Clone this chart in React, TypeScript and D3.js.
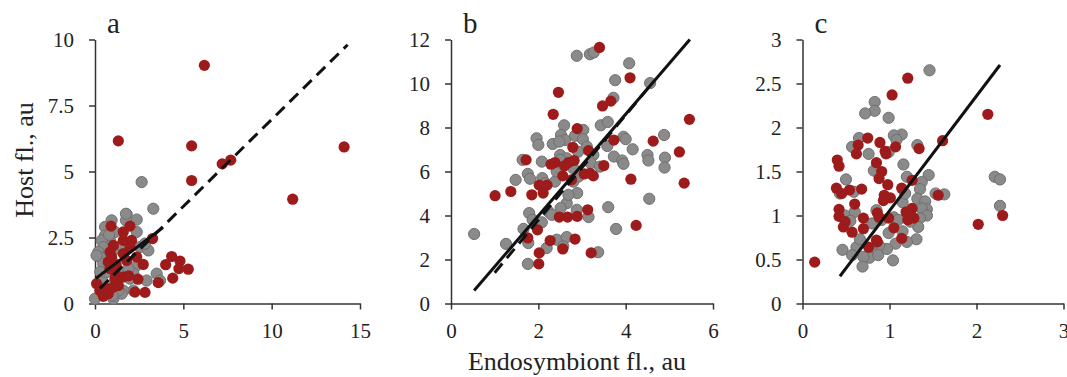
import React, { useEffect, useRef } from 'react';
import * as d3 from 'd3';

type Pt = [number, number];

// panel a
const aGray: Pt[] = [
  [2.64, 4.6], [3.3, 3.59], [1.79, 3.38], [2.36, 3.18], [1.75, 3.15], [0.94, 3.15], [0.57, 2.9], [1.13, 2.71],
  [0.57, 2.58], [2.36, 2.71], [0.85, 2.39], [0.38, 2.39], [0.47, 2.14], [0.19, 1.95], [0.28, 1.76], [0.09, 1.82],
  [1.23, 2.08], [1.51, 2.2], [2.55, 2.14], [3.02, 2.01], [2.83, 2.27], [2.26, 1.38], [2.17, 1.13], [1.98, 0.94],
  [3.49, 1.13], [3.68, 0.87], [2.92, 0.87], [2.17, 0.49], [1.6, 0.49], [1.51, 0.37], [1.04, 0.18], [0.0, 0.18],
  [0.38, 0.94], [0.66, 1.19], [1.51, 1.19], [1.89, 1.32], [0.85, 0.68], [1.32, 0.49], [0.66, 1.44], [1.13, 1.5],
  [0.47, 1.5], [1.75, 3.4], [0.8, 2.6], [1.0, 0.3], [0.3, 1.2],
];
const aRed: Pt[] = [
  [1.32, 6.16], [6.19, 9.02], [5.47, 5.97], [5.47, 4.66], [7.2, 5.29], [7.68, 5.43], [11.19, 3.95], [14.1, 5.93],
  [4.34, 1.78], [4.81, 1.61], [4.0, 1.47], [4.75, 1.32], [5.28, 1.3], [4.4, 0.96], [3.58, 0.79], [2.73, 1.48],
  [3.26, 2.46], [2.83, 0.42], [2.26, 0.43], [2.43, 0.92], [0.91, 2.93], [1.98, 2.93], [1.6, 2.71], [1.6, 2.39],
  [2.07, 2.39], [1.98, 2.14], [1.04, 2.2], [0.85, 1.95], [0.94, 1.76], [0.75, 1.57], [0.85, 1.32], [1.6, 1.89],
  [1.79, 1.63], [2.36, 1.76], [1.6, 1.0], [1.13, 0.94], [1.32, 0.68], [0.09, 0.75], [0.28, 0.49], [0.47, 0.27],
  [0.75, 0.37], [1.13, 1.19], [0.62, 0.56], [1.0, 0.6], [1.2, 1.45], [1.9, 1.05],
];
const aFit: Pt[] = [[0.05, 0.95], [3.85, 2.88]];
const aFitDash: Pt[] = [[0.28, 0.57], [14.3, 9.8]];

// panel b
const bGray: Pt[] = [
  [2.88, 11.26], [3.18, 11.33], [3.27, 11.41], [4.08, 10.92], [3.76, 10.15], [4.56, 10.02], [3.72, 9.35], [2.59, 8.1],
  [3.43, 8.1], [3.59, 8.25], [1.96, 7.51], [2.0, 7.21], [2.33, 7.25], [2.52, 7.66], [2.61, 7.43], [2.48, 7.36],
  [2.84, 7.62], [3.03, 7.89], [3.02, 7.47], [3.11, 7.13], [3.95, 7.58], [4.0, 7.47], [3.58, 7.16], [3.73, 6.68],
  [4.16, 7.01], [4.5, 6.75], [4.52, 6.5], [4.88, 7.66], [4.9, 6.63], [4.89, 6.18], [3.92, 6.5], [3.95, 6.35],
  [4.54, 4.76], [3.6, 4.38], [3.78, 3.39], [3.37, 2.33], [3.15, 3.93], [2.89, 5.02], [2.88, 4.26], [2.65, 4.56],
  [2.69, 4.94], [2.51, 4.34], [2.23, 4.18], [2.31, 4.03], [2.42, 2.9], [2.19, 2.52], [2.65, 3.02], [2.57, 2.6],
  [1.79, 4.11], [1.87, 3.81], [2.08, 3.69], [1.66, 3.39], [1.77, 2.75], [1.26, 2.71], [0.53, 3.16], [1.76, 1.8],
  [1.48, 5.62], [1.64, 6.53], [1.76, 5.89], [1.81, 5.67], [2.08, 6.45], [2.09, 5.7], [2.16, 5.47], [2.38, 5.54],
  [2.42, 6.0], [2.5, 6.75], [2.65, 6.6], [2.8, 5.54], [2.8, 6.15], [3.26, 6.75], [2.92, 5.77], [3.2, 6.38],
  [3.41, 6.22], [2.91, 6.9], [2.5, 6.53],
];
const bRed: Pt[] = [
  [3.4, 11.64], [4.1, 10.26], [2.46, 9.6], [3.66, 9.2], [3.47, 8.98], [2.34, 8.6], [5.46, 8.37], [2.89, 7.95],
  [2.79, 7.1], [3.73, 7.43], [4.63, 7.38], [5.23, 6.89], [3.15, 6.95], [1.72, 6.53], [2.29, 6.33], [2.38, 6.41],
  [2.6, 6.26], [2.69, 6.41], [2.82, 6.5], [3.5, 6.27], [2.56, 5.8], [2.76, 5.62], [3.18, 5.92], [3.26, 5.8],
  [3.05, 5.89], [4.12, 5.65], [5.34, 5.47], [2.02, 5.38], [2.2, 5.38], [2.11, 5.02], [1.85, 4.94], [1.37, 5.09],
  [1.01, 4.9], [3.13, 4.26], [2.48, 3.93], [2.67, 3.93], [2.89, 3.96], [4.24, 3.55], [1.98, 3.35], [1.76, 2.98],
  [2.27, 2.86], [2.84, 2.93], [2.02, 2.3], [2.56, 2.48], [3.21, 2.3], [2.01, 1.8],
];
const bFit: Pt[] = [[0.53, 0.59], [5.47, 12.0]];
const bFitDash: Pt[] = [[1.0, 1.4], [4.6, 10.0]];

// panel c
const cGray: Pt[] = [
  [1.46, 2.65], [0.83, 2.29], [0.83, 2.19], [0.72, 2.16], [0.99, 2.11], [1.14, 1.92], [1.05, 1.91], [1.08, 1.86],
  [0.65, 1.88], [0.57, 1.78], [0.76, 1.7], [0.99, 1.72], [1.32, 1.8], [1.16, 1.58], [0.82, 1.51], [1.45, 1.46],
  [1.2, 1.44], [0.5, 1.41], [1.37, 1.38], [1.35, 1.3], [1.53, 1.25], [1.63, 1.24], [1.32, 1.19], [1.15, 1.15],
  [1.41, 1.16], [1.43, 1.07], [1.37, 1.08], [1.43, 1.0], [1.35, 0.97], [1.33, 0.87], [1.24, 0.93], [1.15, 0.82],
  [1.31, 0.73], [1.2, 0.7], [1.07, 0.68], [0.99, 0.8], [0.97, 0.62], [0.88, 0.66], [0.82, 0.57], [0.77, 0.52],
  [0.7, 0.53], [0.62, 0.64], [0.66, 0.73], [0.46, 0.61], [0.57, 0.55], [0.69, 0.42], [1.04, 0.49], [0.85, 1.06],
  [0.91, 0.95], [1.05, 0.98], [1.1, 0.95], [0.8, 0.91], [0.49, 1.0], [0.6, 1.04], [0.55, 0.94], [0.43, 1.25],
  [0.59, 1.27], [2.21, 1.44], [2.27, 1.41], [2.27, 1.11], [1.18, 1.25], [0.87, 0.55],
];
const cRed: Pt[] = [
  [0.14, 0.47], [1.21, 2.56], [1.03, 2.37], [2.13, 2.15], [2.02, 0.9], [2.3, 1.0], [1.61, 1.85], [1.56, 1.23],
  [1.34, 1.76], [1.26, 1.4], [0.75, 1.88], [0.64, 1.8], [0.62, 1.7], [0.89, 1.83], [0.95, 1.73], [1.07, 1.78],
  [0.96, 1.7], [0.4, 1.63], [0.42, 1.56], [0.85, 1.6], [0.91, 1.5], [0.88, 1.42], [0.98, 1.35], [1.14, 1.31],
  [0.39, 1.31], [0.54, 1.29], [0.45, 1.25], [0.68, 1.3], [0.94, 1.23], [1.01, 1.2], [0.93, 1.17], [0.6, 1.13],
  [0.42, 1.07], [0.42, 0.99], [0.7, 0.97], [0.86, 1.03], [0.88, 0.98], [0.99, 0.97], [1.19, 1.04], [1.26, 1.08],
  [1.21, 0.95], [1.28, 0.97], [0.49, 0.93], [0.47, 0.87], [0.57, 0.81], [0.7, 0.85], [1.05, 0.86], [1.14, 0.74],
  [0.86, 0.7], [0.76, 0.64], [0.85, 0.72],
];
const cFit: Pt[] = [[0.43, 0.31], [2.27, 2.71]];

const panelLetters = ['a', 'b', 'c'];
const xTicksA = [0, 5, 10, 15];
const yTicksA = [0, 2.5, 5, 7.5, 10];
const xTicksB = [0, 2, 4, 6];
const yTicksB = [0, 2, 4, 6, 8, 10, 12];
const xTicksC = [0, 1, 2, 3];
const yTicksC = [0, 0.5, 1, 1.5, 2, 2.5, 3];

const GRAY = '#8a8a8a';
const RED = '#9e1b1b';
const FONT = '"Liberation Serif", "Times New Roman", serif';

interface PanelSpec {
  letter: string;
  left: number;
  width: number;
  xTicks: number[];
  yTicks: number[];
  gray: Pt[];
  red: Pt[];
  fit: Pt[];
  fitDash?: Pt[];
}

const panels: PanelSpec[] = [
  { letter: panelLetters[0], left: 95, width: 265, xTicks: xTicksA, yTicks: yTicksA, gray: aGray, red: aRed, fit: aFit, fitDash: aFitDash },
  { letter: panelLetters[1], left: 451, width: 262, xTicks: xTicksB, yTicks: yTicksB, gray: bGray, red: bRed, fit: bFit, fitDash: bFitDash },
  { letter: panelLetters[2], left: 802.5, width: 261, xTicks: xTicksC, yTicks: yTicksC, gray: cGray, red: cRed, fit: cFit },
];

const TOP = 39.5;
const BOTTOM = 303.5;

const App: React.FC = () => {
  const svgRef = useRef<SVGSVGElement>(null);

  useEffect(() => {
    if (!svgRef.current) return;
    const svg = d3.select(svgRef.current);
    svg.selectAll('*').remove();

    panels.forEach(p => {
      const x = d3.scaleLinear().domain([0, d3.max(p.xTicks) as number]).range([p.left, p.left + p.width]);
      const y = d3.scaleLinear().domain([0, d3.max(p.yTicks) as number]).range([BOTTOM, TOP]);
      const g = svg.append('g');

      // axes
      const xAxis = g.append('g')
        .attr('transform', `translate(0,${BOTTOM})`)
        .call(d3.axisBottom(x).tickValues(p.xTicks).tickSize(6).tickSizeOuter(0).tickPadding(14).tickFormat(d => `${d}`));
      const yAxis = g.append('g')
        .attr('transform', `translate(${p.left},0)`)
        .call(d3.axisLeft(y).tickValues(p.yTicks).tickSize(6).tickSizeOuter(0).tickPadding(15).tickFormat(d => `${d}`));
      [xAxis, yAxis].forEach(ax => {
        ax.select('.domain').attr('stroke', '#333').attr('stroke-width', 1.5);
        ax.selectAll('.tick line').attr('stroke', '#333').attr('stroke-width', 1.5);
        ax.selectAll('.tick text')
          .attr('fill', '#222')
          .style('font-family', FONT)
          .style('font-size', '21px');
      });

      // dots
      g.append('g').selectAll('circle.gray')
        .data(p.gray)
        .enter()
        .append('circle')
        .attr('cx', d => x(d[0]))
        .attr('cy', d => y(d[1]))
        .attr('r', 5.6)
        .attr('fill', GRAY)
        .attr('stroke', '#707070')
        .attr('stroke-width', 1);
      g.append('g').selectAll('circle.red')
        .data(p.red)
        .enter()
        .append('circle')
        .attr('cx', d => x(d[0]))
        .attr('cy', d => y(d[1]))
        .attr('r', 5.6)
        .attr('fill', RED);

      // fits
      const line = d3.line<Pt>().x(d => x(d[0])).y(d => y(d[1]));
      if (p.fitDash) {
        g.append('path')
          .attr('d', line(p.fitDash) as string)
          .attr('fill', 'none')
          .attr('stroke', '#111')
          .attr('stroke-width', 3)
          .attr('stroke-dasharray', '12,7');
      }
      g.append('path')
        .attr('d', line(p.fit) as string)
        .attr('fill', 'none')
        .attr('stroke', '#111')
        .attr('stroke-width', 3);

      // panel letter
      g.append('text')
        .attr('x', p.left + 12)
        .attr('y', 33)
        .style('font-family', FONT)
        .style('font-size', '29px')
        .attr('fill', '#222')
        .text(p.letter);
    });

    svg.append('text')
      .attr('transform', `translate(33,160) rotate(-90)`)
      .attr('text-anchor', 'middle')
      .style('font-family', FONT)
      .style('font-size', '26px')
      .attr('fill', '#222')
      .text('Host fl., au');

    svg.append('text')
      .attr('x', 577)
      .attr('y', 370)
      .attr('text-anchor', 'middle')
      .style('font-family', FONT)
      .style('font-size', '26px')
      .attr('fill', '#222')
      .text('Endosymbiont fl., au');
  }, []);

  return (
    <svg
      ref={svgRef}
      width={1067}
      height={377}
      style={{ position: 'absolute', left: 0, top: 0, background: '#fff' }}
    />
  );
};

export default App;
